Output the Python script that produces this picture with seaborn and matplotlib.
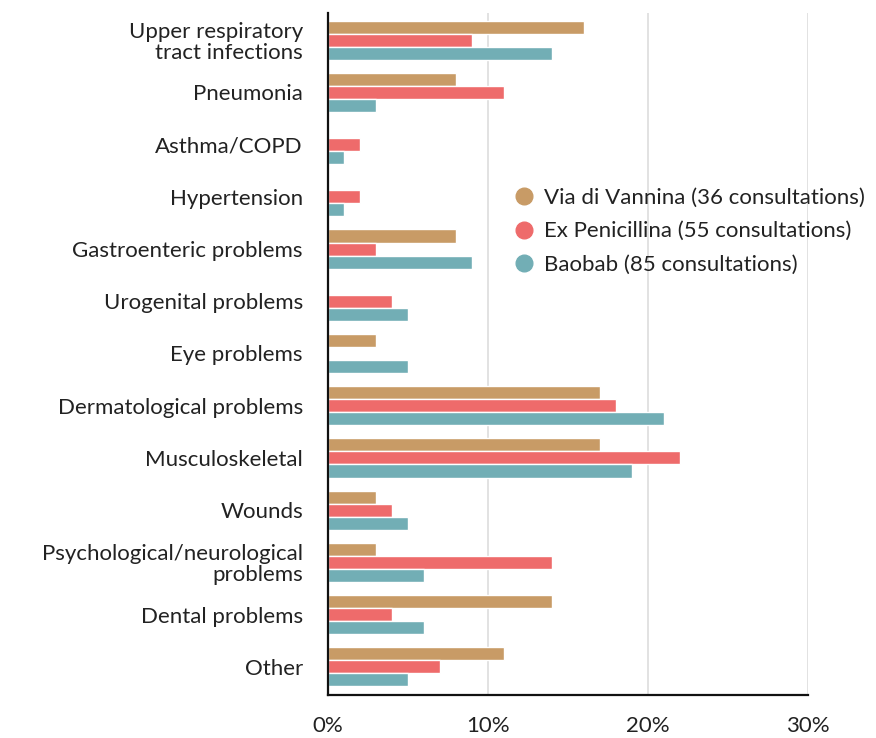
import matplotlib
matplotlib.use("Agg")
import matplotlib.pyplot as plt
from matplotlib.lines import Line2D
from matplotlib.ticker import FuncFormatter
import seaborn as sns
import pandas as pd

categories = [
    "Upper respiratory\ntract infections", "Pneumonia", "Asthma/COPD", "Hypertension",
    "Gastroenteric problems", "Urogenital problems", "Eye problems",
    "Dermatological problems", "Musculoskeletal", "Wounds",
    "Psychological/neurological\nproblems", "Dental problems", "Other",
]
series = ["Via di Vannina (36 consultations)", "Ex Penicillina (55 consultations)",
          "Baobab (85 consultations)"]
via = [16, 8, 0, 0, 8, 0, 3, 17, 17, 3, 3, 14, 11]
expen = [9, 11, 2, 2, 3, 4, 0, 18, 22, 4, 14, 4, 7]
baobab = [14, 3, 1, 1, 9, 5, 5, 21, 19, 5, 6, 6, 5]
colors = ["#C89B66", "#EE6B6B", "#72AEB5"]
xticks = [0, 10, 20, 30]

rows = []
for s, vals in zip(series, [via, expen, baobab]):
    for c, v in zip(categories, vals):
        rows.append({"category": c, "series": s, "value": v})
df = pd.DataFrame(rows)

sns.set_theme(style="white")
plt.rcParams["font.family"] = ["Lato", "DejaVu Sans"]
plt.rcParams["text.color"] = "#222222"

fig = plt.figure(figsize=(8.76, 7.38), dpi=100)
ax = fig.add_axes([328 / 876, 1 - 695 / 738, 480 / 876, (695 - 13) / 738])

sns.barplot(data=df, y="category", x="value", hue="series", order=categories,
            hue_order=series, palette=colors, orient="h", width=0.75,
            saturation=1, legend=False, ax=ax, zorder=2)

ax.set_xlim(0, 30)
ax.set_ylim(12.54, -0.52)
ax.set_xticks(xticks)
ax.xaxis.set_major_formatter(FuncFormatter(lambda v, p: f"{int(v)}%"))
ax.set_xlabel("")
ax.set_ylabel("")
ax.grid(axis="x", color="#dddddd", linewidth=1.2, zorder=0)
ax.set_axisbelow(True)
for sp in ["top", "right"]:
    ax.spines[sp].set_visible(False)
for sp in ["left", "bottom"]:
    ax.spines[sp].set_color("#111111")
    ax.spines[sp].set_linewidth(1.6)
ax.tick_params(axis="both", which="both", direction="out", length=8, width=1.6,
               color="#111111", labelsize=16, labelcolor="#222222")
ax.tick_params(axis="x", pad=7)
ax.tick_params(axis="y", pad=10)
for t in ax.get_yticklabels():
    t.set_linespacing(1.05)

handles = [Line2D([], [], marker="o", linestyle="none", markersize=12,
                  markerfacecolor=c, markeredgecolor=c) for c in colors]
ax.legend(handles, series, loc="upper left", bbox_to_anchor=(511 / 876, 1 - 188 / 738),
          bbox_transform=fig.transFigure, frameon=False, fontsize=16,
          handletextpad=0.3, labelspacing=0.6, borderaxespad=0, borderpad=0,
          handlelength=1.2)

fig.savefig("out.png", dpi=100)
